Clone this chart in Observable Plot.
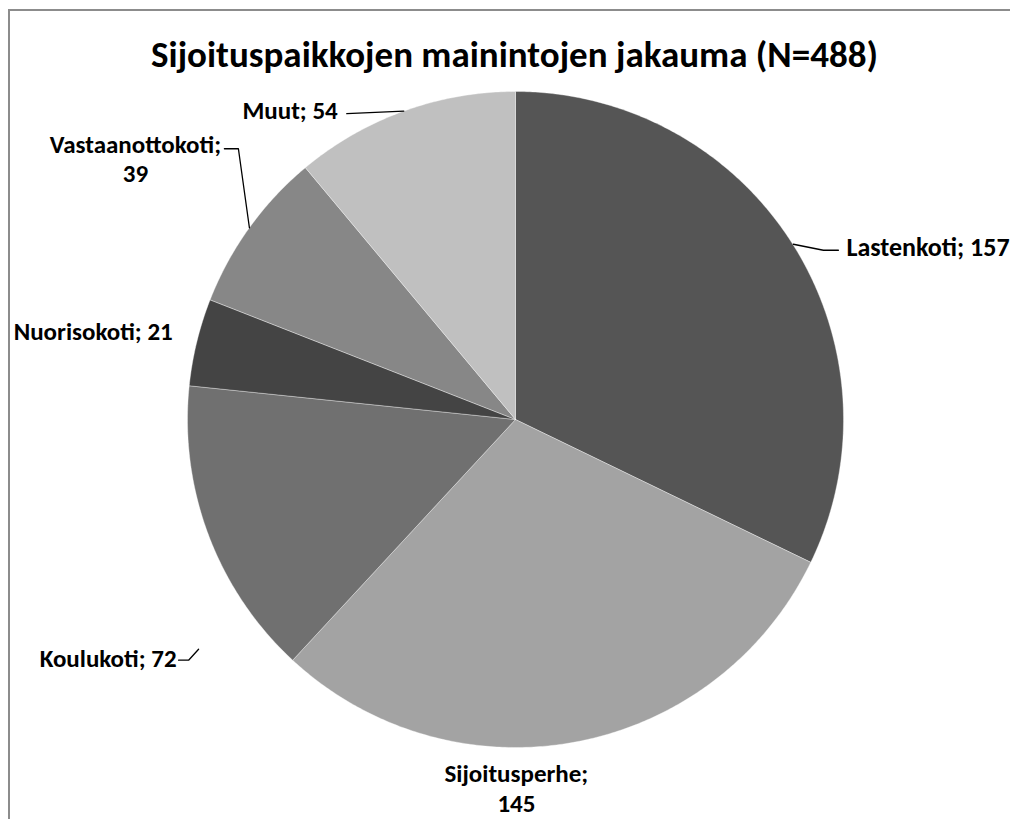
<!DOCTYPE html>
<html><head><meta charset="utf-8">
<script src="https://cdn.jsdelivr.net/npm/d3@7"></script>
<script src="https://cdn.jsdelivr.net/npm/@observablehq/plot@0.6"></script>
<style>
html,body{margin:0;padding:0;background:#fff;overflow:hidden;width:1010px;height:819px;position:relative}
#frame{position:absolute;left:8px;top:9px;width:1200px;height:900px;border:2px solid #8c8c8c;box-sizing:border-box}
#title{position:absolute;left:0;width:1029px;top:35px;line-height:40px;text-align:center;font-family:Carlito,Lato,"Open Sans",sans-serif;font-weight:bold;font-size:37px;color:#000;z-index:2}
#chart{position:absolute;left:0;top:0;z-index:1}
</style></head>
<body>
<div id="frame"></div>
<div id="title">Sijoituspaikkojen mainintojen jakauma (N=488)</div>
<div id="chart"></div>
<script>
// ---- data ----
const categories = ["Lastenkoti", "Sijoitusperhe", "Koulukoti", "Nuorisokoti", "Vastaanottokoti", "Muut"];
const values = [157, 145, 72, 21, 39, 54];
const labelTexts = ["Lastenkoti; 157", "Sijoitusperhe;\n145", "Koulukoti; 72", "Nuorisokoti; 21", "Vastaanottokoti;\n39", "Muut; 54"];
const sliceColors = ["#555555", "#a3a3a3", "#707070", "#444444", "#878787", "#c0c0c0"];

// ---- layout (pixel offsets from the slice's mid-arc point) ----
const R = 328;
const labelLayout = {
  "Lastenkoti":      {text: [53, 1],      anchor: "start",  lh: 1.2,  fs: 26, leader: [[0, -1], [30, 5], [45, 5]]},
  "Sijoitusperhe":   {text: [-60, 46],    anchor: "middle", lh: 1.2,  fs: 25, leader: []},
  "Koulukoti":       {text: [-32, 122],   anchor: "end",    lh: 1.2,  fs: 25, leader: [[-10, 114], [-20, 125], [-30, 125]]},
  "Nuorisokoti":     {text: [-24, -12],   anchor: "end",    lh: 1.2,  fs: 25, leader: []},
  "Vastaanottokoti": {text: [-114, -70],  anchor: "middle", lh: 1.16, fs: 25, leader: [[0, 0], [-11, -79], [-25, -79]]},
  "Muut":            {text: [-66, -1.5],  anchor: "end",    lh: 1.2,  fs: 25, leader: [[0, 0], [-57, 2.5]]}
};

const arcs = d3.pie().sort(null).value(d => d)(values);

// slice polygons
const slicePts = [];
arcs.forEach((a, i) => {
  const name = categories[i];
  slicePts.push({name, color: sliceColors[i], u: 0, v: 0});
  const n = Math.max(2, Math.ceil((a.endAngle - a.startAngle) / (Math.PI / 360)));
  for (let k = 0; k <= n; k++) {
    const t = a.startAngle + (a.endAngle - a.startAngle) * k / n;
    slicePts.push({name, color: sliceColors[i], u: Math.sin(t), v: Math.cos(t)});
  }
  slicePts.push({name, color: sliceColors[i], u: 0, v: 0});
});

// labels and leader lines
const labelRows = [];
const leaderPts = [];
arcs.forEach((a, i) => {
  const name = categories[i];
  const mid = (a.startAngle + a.endAngle) / 2;
  const eu = Math.sin(mid), ev = Math.cos(mid);
  const L = labelLayout[name];
  labelRows.push({name, text: labelTexts[i], anchor: L.anchor, lh: L.lh, fs: L.fs, u: eu + L.text[0] / R, v: ev - L.text[1] / R});
  L.leader.forEach(p => leaderPts.push({name, u: eu + p[0] / R, v: ev - p[1] / R}));
});

const font = "Carlito, Lato, 'Open Sans', sans-serif";
const textMarks = labelRows.map(d => Plot.text([d], {
  x: "u", y: "v", text: "text", textAnchor: d.anchor, lineAnchor: "middle",
  fontSize: d.fs, fontWeight: "bold", fontFamily: font, fill: "#000", lineHeight: d.lh
}));

const chart = Plot.plot({
  width: 1010, height: 819, margin: 0,
  x: {domain: [-1, 1], range: [515 - R, 515 + R], axis: null},
  y: {domain: [-1, 1], range: [419 + R, 419 - R], axis: null},
  color: {type: "identity"},
  style: {background: "transparent", overflow: "visible"},
  marks: [
    Plot.line(slicePts, {x: "u", y: "v", z: "name", fill: "color", stroke: "#ffffff", strokeWidth: 0.6, strokeOpacity: 0.6, curve: "linear"}),
    Plot.line(leaderPts, {x: "u", y: "v", z: "name", stroke: "#000", strokeWidth: 1.3, curve: "linear"}),
    ...textMarks
  ]
});
document.getElementById("chart").appendChild(chart);
</script>
</body></html>
